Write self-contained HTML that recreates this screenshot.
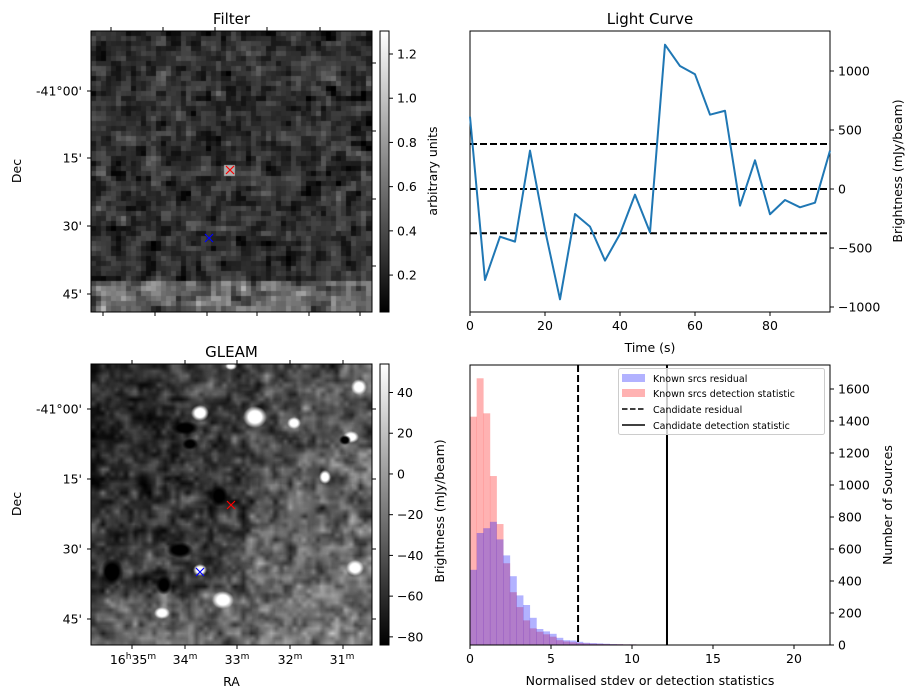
<!DOCTYPE html>
<html><head><meta charset="utf-8">
<style>
html,body{margin:0;padding:0;background:#fff;}
#wrap{position:relative;width:916px;height:699px;font-family:"DejaVu Sans","Liberation Sans",sans-serif;}
canvas{position:absolute;}
svg{position:absolute;left:0;top:0;}
text{font-family:"DejaVu Sans","Liberation Sans",sans-serif;fill:#000;}
</style></head>
<body>
<div id="wrap">
<canvas id="cf" width="281" height="281" style="left:91px;top:31px"></canvas>
<canvas id="cg" width="281" height="281" style="left:91px;top:364px"></canvas>
<svg id="svg" width="916" height="699" xmlns="http://www.w3.org/2000/svg">
<defs>
<linearGradient id="gb" x1="0" y1="1" x2="0" y2="0"><stop offset="0" stop-color="#000"/><stop offset="1" stop-color="#fff"/></linearGradient>
</defs>
<g id="static"></g>
<g id="lc"></g>
<g id="hist"></g>
</svg>
</div>
<script>
// ---- Light curve data ----
const lcTimes=[0,4,8,12,16,20,24,28,32,36,40,44,48,52,56,60,64,68,72,76,80,84,88,92,96];
const lcValues=[613,-771,-404,-446,325,-347,-935,-212,-319,-607,-381,-48,-367,1223,1042,972,630,663,-141,243,-214,-93,-155,-116,325];
const lcThresholds=[381,0,-375];
const lcYTicks=[-1000,-500,0,500,1000];
const lcXTicks=[0,20,40,60,80];
// ---- Histogram data ----
const histBinWidth=0.41;
const histResidual=[470,700,730,770,660,560,430,310,250,170,100,85,70,45,30,28,20,14,12,10,8,6,5,4,4,3,3,3,2,2,2,1,1,1,0,0,1,0,0,0,0,0,0,1,0,0,0,0,0,0,0,0,0,0];
const histDetection=[1427,1667,1448,1056,756,511,330,237,154,104,83,67,52,30,22,17,12,10,8,7,6,5,5,4,4,3,3,3,2,2,2,1,1,1,1,0,0,0,0,0,0,0,1,0,1,0,0,0,0,0,0,1,0,1];
const histCandResidual=6.67;
const histCandDetection=12.16;
const histYTicks=[0,200,400,600,800,1000,1200,1400,1600];
const histXTicks=[0,5,10,15,20];

const NS="http://www.w3.org/2000/svg";
function mk(parent,tag,attrs,txt){const e=document.createElementNS(NS,tag);for(const k in attrs)e.setAttribute(k,attrs[k]);if(txt!==undefined)e.textContent=txt;parent.appendChild(e);return e;}
const S=document.getElementById('static');

// ---------- Light curve ----------
const LC=document.getElementById('lc');
const lx=t=>470+t*(360/96);
const ly=v=>189-v*0.118;
mk(LC,'rect',{x:470,y:31,width:360,height:281,fill:'none',stroke:'#000','stroke-width':1});
lcThresholds.forEach((v,i)=>{
 const l=mk(LC,'line',{x1:470,x2:830,y1:ly(v),y2:ly(v),stroke:'#000','stroke-width':2,'stroke-dasharray':'7,3'});
 
});
const pts=lcTimes.map((t,i)=>lx(t)+','+ly(lcValues[i])).join(' ');
const pl=mk(LC,'polyline',{points:pts,fill:'none',stroke:'#1f77b4','stroke-width':2,'stroke-linejoin':'round'});

lcXTicks.forEach(t=>{mk(LC,'line',{x1:lx(t),x2:lx(t),y1:312,y2:316,stroke:'#000'});
 const e=mk(LC,'text',{x:lx(t),y:330,'font-size':12.5,'text-anchor':'middle'},t);});
lcYTicks.forEach(v=>{mk(LC,'line',{x1:830,x2:834,y1:ly(v),y2:ly(v),stroke:'#000'});
 const e=mk(LC,'text',{x:838,y:ly(v)+4.5,'font-size':12.5},v<0?'\u2212'+(-v):v);});
mk(LC,'text',{x:650,y:24,'font-size':15,'text-anchor':'middle'},'Light Curve');
mk(LC,'text',{x:650,y:352,'font-size':12.5,'text-anchor':'middle'},'Time (s)');
mk(LC,'text',{x:0,y:0,'font-size':12.5,'text-anchor':'middle',transform:'translate(902,171) rotate(-90)'},'Brightness (mJy/beam)');

// ---------- Histogram ----------
const H=document.getElementById('hist');
const hx=v=>470+v*16.2;
const hy=c=>645-c*0.16;
histDetection.forEach((c,i)=>{if(!c)return;const r=mk(H,'rect',{x:hx(i*histBinWidth),y:hy(c),width:histBinWidth*16.2+0.3,height:c*0.16,fill:'rgba(255,0,0,0.3)'});
 });
histResidual.forEach((c,i)=>{if(!c)return;const r=mk(H,'rect',{x:hx(i*histBinWidth),y:hy(c),width:histBinWidth*16.2+0.3,height:c*0.16,fill:'rgba(0,0,255,0.3)'});
 });
const v1=mk(H,'line',{x1:hx(histCandResidual),x2:hx(histCandResidual),y1:365,y2:645,stroke:'#000','stroke-width':2,'stroke-dasharray':'7,3'});

const v2=mk(H,'line',{x1:hx(histCandDetection),x2:hx(histCandDetection),y1:365,y2:645,stroke:'#000','stroke-width':2});

mk(H,'rect',{x:470,y:365,width:360,height:280,fill:'none',stroke:'#000'});
histXTicks.forEach(t=>{mk(H,'line',{x1:hx(t),x2:hx(t),y1:645,y2:649,stroke:'#000'});
 const e=mk(H,'text',{x:hx(t),y:663,'font-size':12.5,'text-anchor':'middle'},t);});
histYTicks.forEach(v=>{mk(H,'line',{x1:830,x2:834,y1:hy(v),y2:hy(v),stroke:'#000'});
 const e=mk(H,'text',{x:838,y:hy(v)+4.5,'font-size':12.5},v);});
mk(H,'text',{x:650,y:685,'font-size':12.5,'text-anchor':'middle'},'Normalised stdev or detection statistics');
mk(H,'text',{x:0,y:0,'font-size':12.5,'text-anchor':'middle',transform:'translate(892,505) rotate(-90)'},'Number of Sources');
const lg=mk(H,'g',{});
mk(lg,'rect',{x:618.5,y:368.5,width:206,height:66,rx:2,fill:'rgba(255,255,255,0.8)',stroke:'#ccc'});
mk(lg,'rect',{x:622,y:374,width:23,height:8,fill:'rgba(0,0,255,0.3)'});
mk(lg,'text',{x:653,y:382,'font-size':9.5},'Known srcs residual');
mk(lg,'rect',{x:622,y:389,width:23,height:8,fill:'rgba(255,0,0,0.3)'});
mk(lg,'text',{x:653,y:397,'font-size':9.5},'Known srcs detection statistic');
mk(lg,'line',{x1:622,x2:645,y1:409,y2:409,stroke:'#000','stroke-width':1.5,'stroke-dasharray':'5.5,2.5'});
mk(lg,'text',{x:653,y:413,'font-size':9.5},'Candidate residual');
mk(lg,'line',{x1:622,x2:645,y1:425,y2:425,stroke:'#000','stroke-width':1.5});
mk(lg,'text',{x:653,y:429,'font-size':9.5},'Candidate detection statistic');
mk(S,'text',{x:0,y:0,'font-size':12.5,'text-anchor':'middle',transform:'translate(444,511) rotate(-90)'},'Brightness (mJy/beam)');

// ---------- Image panels ----------
function panel(top,title,cbTicks,cbMin,cbMax,cbLabel,name){
 const g=mk(S,'g',{});
 mk(g,'rect',{x:91,y:top,width:281,height:281,fill:'none',stroke:'#000'});
 mk(g,'text',{x:231.5,y:top-7,'font-size':15,'text-anchor':'middle'},title);
 mk(g,'text',{x:0,y:0,'font-size':12.5,'text-anchor':'middle',transform:`translate(21,${top+140}) rotate(-90)`},'Dec');
 mk(g,'rect',{x:380,y:top,width:9,height:281,fill:'url(#gb)',stroke:'#000','stroke-width':1});
 cbTicks.forEach(v=>{const y=top+281-(v-cbMin)/(cbMax-cbMin)*281;mk(g,'line',{x1:389,x2:393,y1:y,y2:y,stroke:'#000'});
  mk(g,'text',{x:397,y:y+4.5,'font-size':12.5},v<0?'\u2212'+(-v):v.toFixed(cbLabel==='arbitrary units'?1:0));});
 return g;
}
const gf=panel(31,'Filter',[0.2,0.4,0.6,0.8,1.0,1.2],0.033,1.304,'arbitrary units','filter-panel');
mk(gf,'text',{x:0,y:0,'font-size':12.5,'text-anchor':'middle',transform:'translate(437,171) rotate(-90)'},'arbitrary units');
[91,158,226,294].forEach((y,i)=>{mk(gf,'line',{x1:87,x2:91,y1:y,y2:y,stroke:'#000'});mk(gf,'text',{x:82,y:y+4.5,'font-size':12.5,'text-anchor':'end'},["-41°00'","15'","30'","45'"][i]);});
[63,131,199,266].forEach(y=>mk(gf,'line',{x1:372,x2:376,y1:y,y2:y,stroke:'#000'}));
[111,163,215,267,320].forEach(x=>mk(gf,'line',{x1:x,x2:x,y1:27,y2:31,stroke:'#000'}));
[103,155,207,257,309,360].forEach(x=>mk(gf,'line',{x1:x,x2:x,y1:312,y2:316,stroke:'#000'}));

const gg=panel(364,'GLEAM',[-80,-60,-40,-20,0,20,40],-84,54,'b','gleam-panel');
[409,479,549,619].forEach((y,i)=>{mk(gg,'line',{x1:87,x2:91,y1:y,y2:y,stroke:'#000'});mk(gg,'text',{x:82,y:y+4.5,'font-size':12.5,'text-anchor':'end'},["-41°00'","15'","30'","45'"][i]);});
[409,479,549,619].forEach(y=>mk(gg,'line',{x1:372,x2:376,y1:y,y2:y,stroke:'#000'}));
[132,185,237,290,343].forEach(x=>{mk(gg,'line',{x1:x,x2:x,y1:360,y2:364,stroke:'#000'});mk(gg,'line',{x1:x,x2:x,y1:645,y2:649,stroke:'#000'});});
const ral=[[133,'16','h','35','m'],[185,'','','34','m'],[237,'','','33','m'],[290,'','','32','m'],[342,'','','31','m']];
ral.forEach(r=>{const t=mk(gg,'text',{x:r[0],y:664,'font-size':12.5,'text-anchor':'middle'});
 if(r[1]){mk(t,'tspan',{},r[1]);mk(t,'tspan',{dy:-5,'font-size':9},r[2]);mk(t,'tspan',{dy:5},r[3]);}else{mk(t,'tspan',{},r[3]);}
 mk(t,'tspan',{dy:-5,'font-size':9},r[4]);});
mk(gg,'text',{x:231.5,y:686,'font-size':12.5,'text-anchor':'middle'},'RA');

function cross(x,y,c,n){const g=mk(S,'g',{});
 mk(g,'path',{d:`M${x-4},${y-4}L${x+4},${y+4}M${x-4},${y+4}L${x+4},${y-4}`,stroke:c,'stroke-width':1.2});}
cross(230,170,'red','filter-candidate-marker');cross(209,238,'blue','filter-source-marker');
cross(231,505,'red','gleam-candidate-marker');cross(200,572,'blue','gleam-source-marker');

// ---------- textures (decorative image noise) ----------
let st=987654321;function rnd(){st|=0;st=st+0x6D2B79F5|0;let t=Math.imul(st^st>>>15,1|st);t=t+Math.imul(t^t>>>7,61|t)^t;return ((t^t>>>14)>>>0)/4294967296;}
function gauss(){return (rnd()+rnd()+rnd()+rnd()-2)*1.7;}
(function(){const c=document.getElementById('cf').getContext('2d');const n=56,s=281/n;
 const raw=[];for(let j=0;j<n;j++){raw.push([]);for(let i=0;i<n;i++)raw[j].push(gauss());}
 for(let j=0;j<n;j++)for(let i=0;i<n;i++){
  let a=raw[j][i]*0.6,w=0.6;[[0,1],[1,0],[0,-1],[-1,0]].forEach(d=>{const jj=j+d[0],ii=i+d[1];if(jj>=0&&jj<n&&ii>=0&&ii<n){a+=raw[jj][ii]*0.25;w+=0.25;}});
  a/=w;
  let v=0.27+0.2*a;if(j>=50)v=0.55+0.28*a;
  v=Math.max(0.03,Math.min(1.3,v));const gval=Math.round((v-0.033)/1.271*255);
  c.fillStyle=`rgb(${gval},${gval},${gval})`;c.fillRect(Math.floor(i*s),Math.floor(j*s),Math.ceil(s)+1,Math.ceil(s)+1);}
 c.fillStyle='rgb(175,175,175)';c.fillRect(133,134,11,11);})();
(function(){const cv=document.getElementById('cg');const c=cv.getContext('2d');
 function layer(n,amp,alpha){const t=document.createElement('canvas');t.width=n;t.height=n;const tc=t.getContext('2d');const im=tc.createImageData(n,n);
  for(let j=0;j<n;j++)for(let i=0;i<n;i++){const fx=i/n,fy=j/n;
   let base=85+(fx*0.6+fy*0.6-0.6)*75; if(fx<0.55&&fy>0.1&&fy<0.8)base-=25;
   let v=base+amp*gauss();v=Math.max(0,Math.min(255,v));const k=(j*n+i)*4;im.data[k]=im.data[k+1]=im.data[k+2]=v;im.data[k+3]=255;}
  tc.putImageData(im,0,0);c.globalAlpha=alpha;c.imageSmoothingEnabled=true;c.drawImage(t,0,0,281,281);c.globalAlpha=1;}
 layer(18,45,1);layer(36,60,0.6);layer(60,60,0.3);
 function blob(x,y,rx,ry,col){c.save();c.translate(x-91,y-364);c.scale(1,ry/rx);const g=c.createRadialGradient(0,0,0,0,0,rx);
  g.addColorStop(0,col);g.addColorStop(0.55,col);g.addColorStop(1,col.replace(',1)',',0)'));c.fillStyle=g;c.beginPath();c.arc(0,0,rx,0,7);c.fill();c.restore();}
 const W='rgba(255,255,255,1)',D='rgba(0,0,0,1)';
 [[200,413,9,8],[255,417,12,11],[294,423,7,6],[359,387,8,8],[351,437,8,6],[325,477,6,7],[355,568,9,8],[223,600,11,9],[162,613,8,6],[200,570,7,6],[231,366,6,4]].forEach(b=>blob(b[0],b[1],b[2],b[3],W));
 [[219,496,9,11],[185,428,14,7],[180,550,14,8],[164,585,8,10],[112,572,12,14],[190,444,8,6],[345,440,6,5]].forEach(b=>blob(b[0],b[1],b[2],b[3],D));})();
</script>
</body></html>
